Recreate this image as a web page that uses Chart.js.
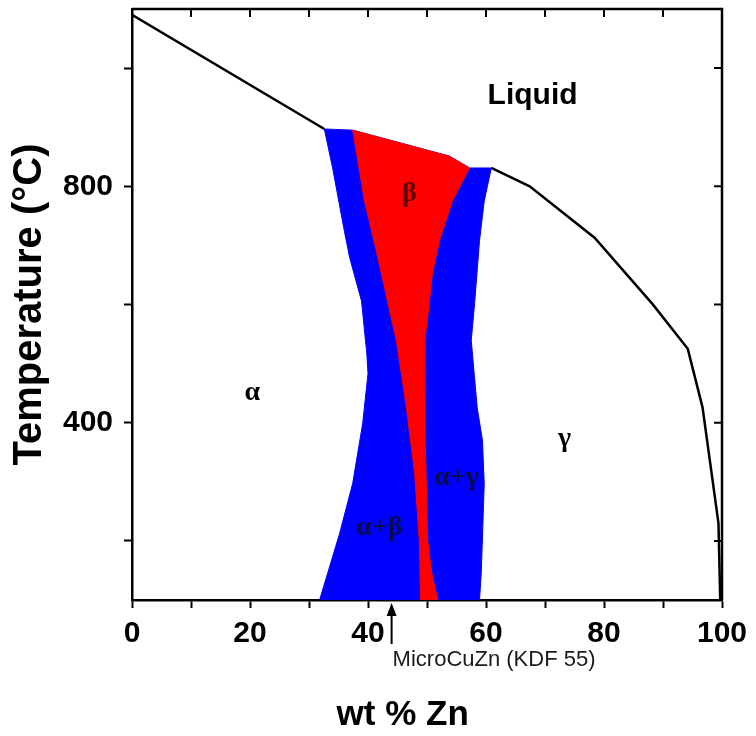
<!DOCTYPE html>
<html>
<head>
<meta charset="utf-8">
<title>Cu-Zn phase diagram</title>
<script src="https://cdn.jsdelivr.net/npm/chart.js@4.4.1/dist/chart.umd.min.js"></script>
<style>
    html, body { margin: 0; padding: 0; background: #fff; }
    #wrap { width: 756px; height: 736px; }
</style>
</head>
<body>
<div id="wrap"><canvas id="phase" width="756" height="736"></canvas></div>
<script>
// DATA  (x = wt % Zn, T = temperature in °C)

// liquidus, Cu side (Cu melting point -> peritectic)
const liqCuX = [0, 32.6];
const liqCuT = [1090, 897];

// liquidus / solidus, Zn side
const liqZnX = [60.9, 67.4, 78.4, 88.2, 94.2, 96.7, 99.4, 99.7];
const liqZnT = [831, 800, 713, 601, 525, 426, 230, 100];

// outer envelope of the two-phase fields (alpha+beta, beta+gamma)
const twoPhaseX = [32.6, 34.0, 36.0, 36.9, 38.9, 39.8, 40.0, 39.1, 37.4, 35.2, 31.8,
                   58.9, 59.2, 59.7, 59.4, 58.5, 57.5, 58.1, 58.9, 59.7, 60.9,
                   57.2, 53.8, 37.4, 32.6];
const twoPhaseT = [897, 831, 724, 679, 606, 517, 483, 399, 297, 213, 100,
                   100, 146, 297, 370, 426, 539, 606, 708, 775, 831,
                   831, 851, 895, 897];

// beta single phase field
const betaX = [37.4, 39.4, 41.4, 43.3, 44.8, 46.5, 47.9, 48.7, 48.9,
               51.8, 50.8, 50.1, 49.7, 49.6, 50.1, 50.9, 52.1, 54.3, 57.2,
               53.8, 37.4];
const betaT = [895, 775, 691, 606, 539, 426, 314, 201, 100,
               100, 146, 201, 370, 539, 578, 652, 708, 775, 831,
               851, 895];

// region labels
const labelText = ['Liquid', 'α', 'β', 'γ', 'α+β', 'α+γ'];
const labelX = [67.9, 20.4, 47.0, 73.3, 41.9, 55.0];
const labelT = [954, 451, 787, 373, 223, 306];

// marked alloy
const markerX = 44;
const markerText = 'MicroCuZn (KDF 55)';

// axes
const xTicks = [0, 10, 20, 30, 40, 50, 60, 70, 80, 90, 100];
const yTicks = [200, 400, 600, 800, 1000];


// HELPERS

const pts = (xs, ys) => xs.map((v, i) => ({ x: v, y: ys[i] }));

const SANS = "'Liberation Sans', Arial, sans-serif";
const SERIF = "'Liberation Serif', 'Times New Roman', serif";

const labelStyle = {
    'Liquid': { font: `bold 30px ${SANS}`, color: '#000' },
    'α': { font: `bold 28px ${SERIF}`, color: '#000' },
    'β': { font: `bold 28px ${SERIF}`, color: '#5e0000' },
    'γ': { font: `bold 28px ${SERIF}`, color: '#000' },
    'α+β': { font: `bold 28px ${SERIF}`, color: '#0a0a4a' },
    'α+γ': { font: `bold 28px ${SERIF}`, color: '#0a0a4a' }
};

// no extra room for label overflow: the frame sits where the reference has it
const noOverflow = s => { s.paddingTop = 0; s.paddingBottom = 0; s.paddingLeft = 0; s.paddingRight = 0; };


// PLUGINS

// inward ticks on the top and right frame
const frame = {
    id: 'frame',
    afterDraw(chart) {
        const { ctx, chartArea: a, scales: { x, y } } = chart;
        ctx.save();
        ctx.strokeStyle = '#000';
        ctx.lineWidth = 2.5;
        ctx.beginPath();
        ctx.moveTo(a.left, a.top);
        ctx.lineTo(a.right, a.top);
        ctx.lineTo(a.right, a.bottom);
        ctx.stroke();
        ctx.lineWidth = 2;
        ctx.beginPath();
        xTicks.forEach(v => {
            const px = x.getPixelForValue(v);
            ctx.moveTo(px, a.top);
            ctx.lineTo(px, a.top + 8);
        });
        yTicks.forEach(v => {
            const py = y.getPixelForValue(v);
            ctx.moveTo(a.right, py);
            ctx.lineTo(a.right - 8, py);
        });
        ctx.stroke();
        ctx.restore();
    }
};

// phase names + alloy arrow
const annotations = {
    id: 'annotations',
    afterDraw(chart) {
        const { ctx, chartArea: a, scales: { x, y } } = chart;
        ctx.save();
        ctx.textAlign = 'center';
        ctx.textBaseline = 'middle';
        labelText.forEach((t, i) => {
            ctx.font = labelStyle[t].font;
            ctx.fillStyle = labelStyle[t].color;
            ctx.fillText(t, x.getPixelForValue(labelX[i]), y.getPixelForValue(labelT[i]));
        });

        const ax = x.getPixelForValue(markerX);
        ctx.strokeStyle = '#000';
        ctx.fillStyle = '#000';
        ctx.lineWidth = 2;
        ctx.beginPath();
        ctx.moveTo(ax, a.bottom + 44);
        ctx.lineTo(ax, a.bottom + 12);
        ctx.stroke();
        ctx.beginPath();
        ctx.moveTo(ax, a.bottom + 3);
        ctx.lineTo(ax - 5, a.bottom + 16);
        ctx.lineTo(ax + 5, a.bottom + 16);
        ctx.closePath();
        ctx.fill();

        ctx.font = `22px ${SANS}`;
        ctx.textAlign = 'left';
        ctx.fillStyle = '#1a1a1a';
        ctx.fillText(markerText, ax + 1, a.bottom + 60);
        ctx.restore();
    }
};


// CHART

const tickFont = { family: SANS, size: 30, weight: 'bold' };

new Chart(document.getElementById('phase'), {
    type: 'line',
    data: {
        datasets: [
            {
                data: pts(liqCuX, liqCuT),
                borderColor: '#000', borderWidth: 2.5, fill: false, order: 1
            },
            {
                data: pts(liqZnX, liqZnT),
                borderColor: '#000', borderWidth: 2.5, fill: false, order: 1
            },
            {
                data: pts(betaX, betaT),
                borderColor: '#ff0000', backgroundColor: '#ff0000',
                borderWidth: 1, fill: 'shape', order: 2
            },
            {
                data: pts(twoPhaseX, twoPhaseT),
                borderColor: '#0000ff', backgroundColor: '#0000ff',
                borderWidth: 1, fill: 'shape', order: 3
            }
        ]
    },
    options: {
        responsive: false,
        animation: false,
        devicePixelRatio: 1,
        layout: { padding: { top: 9, right: 34, left: 0, bottom: 0 } },
        elements: { point: { radius: 0 }, line: { tension: 0 } },
        plugins: { legend: { display: false }, tooltip: { enabled: false } },
        scales: {
            x: {
                type: 'linear',
                min: 0, max: 100,
                z: 1,
                afterBuildTicks: s => { s.ticks = xTicks.map(v => ({ value: v })); },
                afterFit: s => { s.height = 136; noOverflow(s); },
                ticks: {
                    color: '#000', font: tickFont, padding: 8, maxRotation: 0,
                    callback: v => (v % 20 === 0 ? v : '')
                },
                grid: { drawOnChartArea: false, drawTicks: true, tickLength: 8, tickWidth: 2, tickColor: '#000' },
                border: { color: '#000', width: 2.5 },
                // trailing spaces pull the centred title left, as in the reference
                title: {
                    display: true, text: 'wt % Zn\u00a0\u00a0\u00a0\u00a0\u00a0', color: '#000',
                    font: { family: SANS, size: 35, weight: 'bold' }, padding: { top: 0, bottom: 0 }
                }
            },
            y: {
                type: 'linear',
                min: 100, max: 1100,
                z: 1,
                afterBuildTicks: s => { s.ticks = yTicks.map(v => ({ value: v })); },
                afterFit: s => { s.width = 132; noOverflow(s); },
                ticks: {
                    color: '#000', font: tickFont, padding: 11,
                    callback: v => (v % 400 === 0 ? v : '')
                },
                grid: { drawOnChartArea: false, drawTicks: true, tickLength: 8, tickWidth: 2, tickColor: '#000' },
                border: { color: '#000', width: 2.5 },
                title: {
                    display: true, text: 'Temperature (°C)', color: '#000',
                    font: { family: SANS, size: 40, weight: 'bold' }, padding: { top: 6, bottom: 0 }
                }
            }
        }
    },
    plugins: [frame, annotations]
});
</script>
</body>
</html>
